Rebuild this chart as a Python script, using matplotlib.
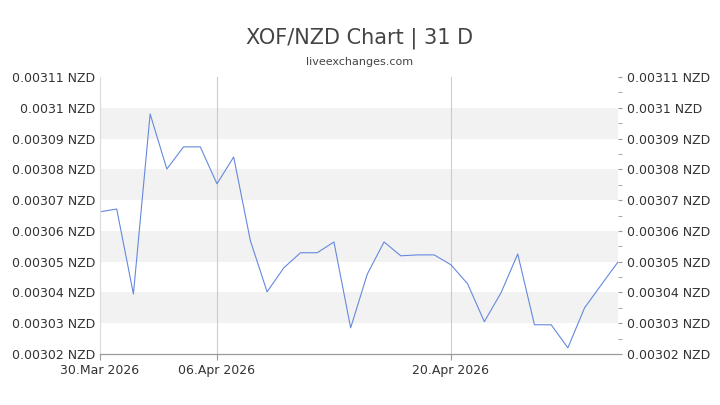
import matplotlib
matplotlib.use("Agg")
import matplotlib.pyplot as plt
import matplotlib.dates as mdates
import numpy as np, datetime as dt

dates = [dt.date(2026,3,30)+dt.timedelta(days=i) for i in range(32)]
values = [0.0030662,0.0030671,0.0030395,0.0030980,0.0030801,0.0030873,0.0030873,0.0030753,
          0.0030840,0.0030568,0.0030402,0.0030480,0.0030529,0.0030529,0.0030564,0.0030285,
          0.0030460,0.0030564,0.0030519,0.0030522,0.0030522,0.0030490,0.0030428,0.0030305,
          0.0030399,0.0030525,0.0030295,0.0030295,0.0030220,0.0030350,0.0030425,0.0030499]
yticks = [0.00302,0.00303,0.00304,0.00305,0.00306,0.00307,0.00308,0.00309,0.0031,0.00311]
ylabels = ["0.00302 NZD","0.00303 NZD","0.00304 NZD","0.00305 NZD","0.00306 NZD",
           "0.00307 NZD","0.00308 NZD","0.00309 NZD","0.0031 NZD","0.00311 NZD"]
xticks = [dt.date(2026,3,30),dt.date(2026,4,6),dt.date(2026,4,20)]
xlabels = ["30.Mar 2026","06.Apr 2026","20.Apr 2026"]

fig = plt.figure(figsize=(7.2,4.05),dpi=100)
ax = fig.add_axes([100/720,1-354/405,518/720,277/405])
for i in range(1,9,2):
    ax.axhspan(yticks[i],yticks[i+1],color="#f2f2f2",lw=0)
for d in xticks[1:]:
    ax.axvline(d,color="#cccccc",lw=0.8)
ax.plot(dates,values,color="#6688dd",lw=0.8)
ax.set_xlim(dates[0],dates[-1]); ax.set_ylim(0.00302,0.00311)
ax.set_yticks(yticks); ax.set_yticklabels(ylabels,fontsize=9,color="#333")
ax.set_xticks(xticks); ax.set_xticklabels(xlabels,fontsize=9,color="#333")
ax.tick_params(axis="x",length=4,color="#999")
ax.tick_params(axis="y",length=0)
ax2 = ax.twinx(); ax2.set_ylim(ax.get_ylim())
ax2.set_yticks(yticks); ax2.set_yticklabels(ylabels,fontsize=9,color="#333")
ax2.set_yticks(np.arange(0.003025,0.00311,0.00001),minor=True)
ax2.tick_params(axis="y",which="both",length=3,color="#999")
for a in (ax,ax2):
    for s in a.spines.values(): s.set_visible(False)
    a.spines["bottom"].set_visible(True); a.spines["bottom"].set_color("#999")
    a.spines["left"].set_visible(True); a.spines["left"].set_color("#ddd")
fig.text(0.5,1-38/405,"XOF/NZD Chart | 31 D",ha="center",va="center",fontsize=15,color="#444")
fig.text(0.5,1-62/405,"liveexchanges.com",ha="center",va="center",fontsize=8,color="#444")
fig.savefig("out.png")
